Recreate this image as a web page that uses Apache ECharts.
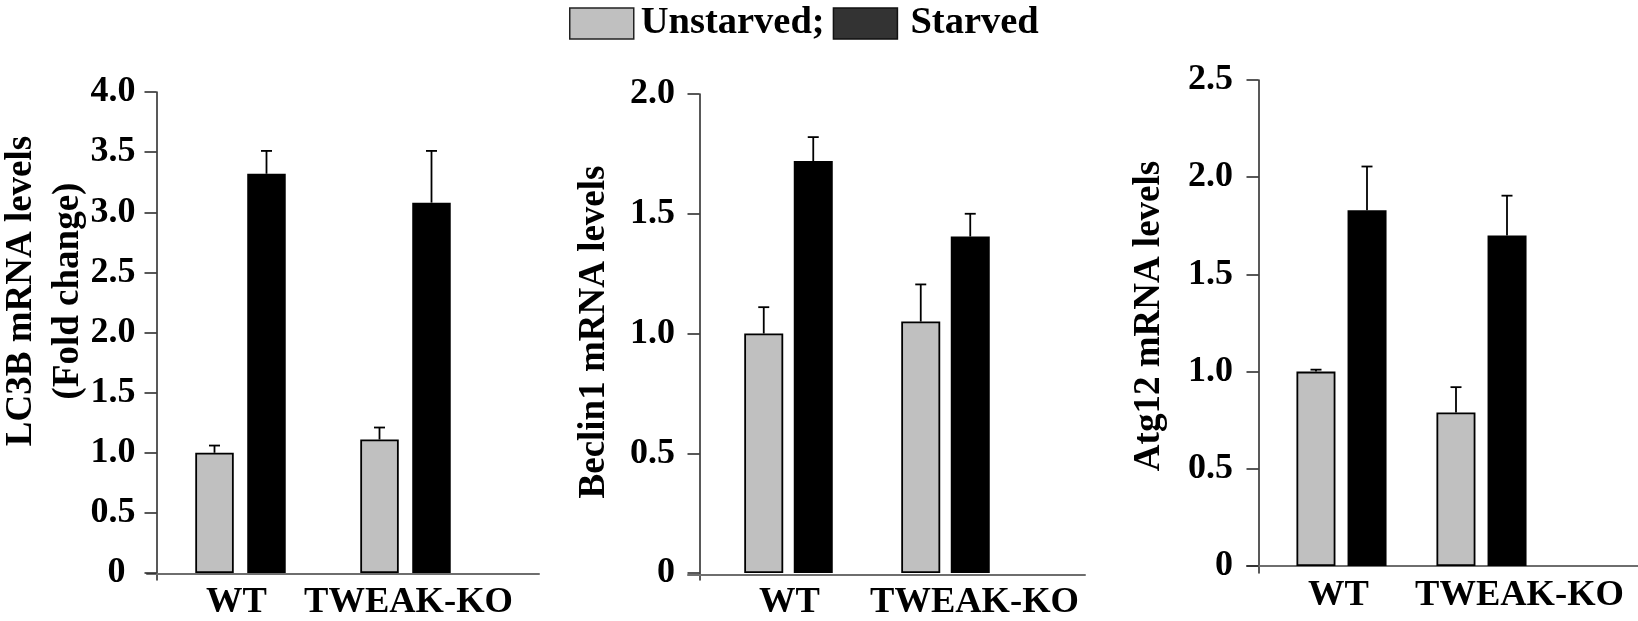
<!DOCTYPE html>
<html>
<head>
<meta charset="utf-8">
<script src="https://cdn.jsdelivr.net/npm/echarts@6/dist/echarts.min.js"></script>
<style>
html,body{margin:0;padding:0;background:#fff;}
#chart{width:1638px;height:621px;}
</style>
</head>
<body>
<div id="chart"></div>
<script>
// ---- data ----
const categories = ['WT', 'TWEAK-KO'];
const seriesNames = ['Unstarved', 'Starved'];

const lc3bUnstarved = [1.00, 1.11];
const lc3bUnstarvedErr = [0.06, 0.10];
const lc3bStarved = [3.32, 3.08];
const lc3bStarvedErr = [0.19, 0.43];
const lc3bTicks = [0, 0.5, 1.0, 1.5, 2.0, 2.5, 3.0, 3.5, 4.0];

const beclinUnstarved = [1.00, 1.05];
const beclinUnstarvedErr = [0.11, 0.155];
const beclinStarved = [1.72, 1.405];
const beclinStarvedErr = [0.10, 0.095];
const beclinTicks = [0, 0.5, 1.0, 1.5, 2.0];

const atgUnstarved = [1.00, 0.79];
const atgUnstarvedErr = [0.01, 0.13];
const atgStarved = [1.83, 1.70];
const atgStarvedErr = [0.225, 0.205];
const atgTicks = [0, 0.5, 1.0, 1.5, 2.0, 2.5];

const titles = [['LC3B mRNA levels', '(Fold change)'], ['Beclin1 mRNA levels'], ['Atg12 mRNA levels']];

// ---- layout (styles only) ----
const FONT = '"Liberation Serif", "Times New Roman", serif';
const panels = [
  { u: lc3bUnstarved, ue: lc3bUnstarvedErr, s: lc3bStarved, se: lc3bStarvedErr, ticks: lc3bTicks,
    grid: {left: 158, top: 92, width: 330, height: 489}, yMin: -0.058, yOffset: 1.5, labelMargin: 21,
    base: {left: 147, top: 92, width: 392, height: 482}, barWidth: 38.5, barGap: '35%', errOff: 26,
    xFont: 36.5, xShift: [-4, 3], zeroPad: 10, title: {x: 45, y: 291} },
  { u: beclinUnstarved, ue: beclinUnstarvedErr, s: beclinStarved, se: beclinStarvedErr, ticks: beclinTicks,
    grid: {left: 710, top: 94, width: 314, height: 488}, yMin: -0.029, yOffset: 10.5, labelMargin: 24.5,
    base: {left: 688, top: 94, width: 397, height: 481}, barWidth: 39, barGap: '27%', errOff: 24.75,
    xFont: 36.5, xShift: [1, 29], zeroPad: 0, title: {x: 594, y: 332} },
  { u: atgUnstarved, ue: atgUnstarvedErr, s: atgStarved, se: atgStarvedErr, ticks: atgTicks,
    grid: {left: 1271.5, top: 80, width: 280, height: 493}, yMin: -0.036, yOffset: 13, labelMargin: 25.5,
    base: {left: 1247, top: 80, width: 391, height: 486}, barWidth: 39, barGap: '31%', errOff: 25.5,
    xFont: 36.5, xShift: [-3, 38], zeroPad: 0, title: {x: 1149, y: 316} }
];

function shiftPad(s) { return s >= 0 ? [0, 0, 0, 2 * s] : [0, -2 * s, 0, 0]; }

function errRender(offset) {
  return function (params, api) {
    const c = api.value(0), v = api.value(1), e = api.value(2);
    const top = api.coord([c, v + e]);
    const bot = api.coord([c, v]);
    const x = top[0] + offset;
    const st = {stroke: '#000', lineWidth: 1.8};
    return {type: 'group', children: [
      {type: 'line', shape: {x1: x, y1: bot[1], x2: x, y2: top[1]}, style: st},
      {type: 'line', shape: {x1: x - 5.5, y1: top[1], x2: x + 5.5, y2: top[1]}, style: st}
    ]};
  };
}

const grids = [], xAxes = [], yAxes = [], series = [], graphics = [];
panels.forEach((p, i) => {
  const gi = grids.length;
  grids.push(Object.assign({containLabel: false}, p.grid));
  const ymax = p.ticks[p.ticks.length - 1];
  xAxes.push({
    type: 'category', gridIndex: gi, data: categories,
    axisLine: {show: false, onZero: false}, axisTick: {show: false}, splitLine: {show: false},
    axisLabel: {
      margin: 4, color: '#000', fontFamily: FONT, fontWeight: 'bold', fontSize: p.xFont, interval: 0,
      formatter: (v, idx) => '{t' + idx + '|' + v + '}',
      rich: {
        t0: {fontFamily: FONT, fontWeight: 'bold', fontSize: p.xFont, color: '#000', padding: shiftPad(p.xShift[0])},
        t1: {fontFamily: FONT, fontWeight: 'bold', fontSize: p.xFont, color: '#000', padding: shiftPad(p.xShift[1])}
      }
    }
  });
  yAxes.push({
    type: 'value', gridIndex: gi, min: p.yMin, max: ymax, offset: p.yOffset,
    axisLine: {show: true, lineStyle: {color: '#222', width: 1.5}},
    axisTick: {show: true, length: 12, customValues: p.ticks, lineStyle: {color: '#222', width: 1.5}},
    splitLine: {show: false},
    axisLabel: {
      customValues: p.ticks, margin: p.labelMargin, color: '#000',
      fontFamily: FONT, fontWeight: 'bold', fontSize: 36,
      formatter: v => (Math.abs(v) < 1e-9 ? '{z|0}' : v.toFixed(1)),
      rich: {z: {fontFamily: FONT, fontWeight: 'bold', fontSize: 36, color: '#000', padding: [0, p.zeroPad, 0, 0]}}
    }
  });
  // baseline grid (long x-axis line)
  const bi = grids.length;
  grids.push(Object.assign({containLabel: false}, p.base));
  xAxes.push({type: 'value', gridIndex: bi, min: 0, max: 1,
    axisLine: {show: true, onZero: false, lineStyle: {color: '#6e6e6e', width: 2}},
    axisTick: {show: false}, axisLabel: {show: false}, splitLine: {show: false}});
  yAxes.push({type: 'value', gridIndex: bi, min: 0, max: 1, show: false});

  const xi = xAxes.length - 2, yi = yAxes.length - 2;
  series.push({
    name: seriesNames[0], type: 'bar', xAxisIndex: xi, yAxisIndex: yi, data: p.u,
    barWidth: p.barWidth, barGap: p.barGap,
    itemStyle: {color: '#c0c0c0', borderColor: '#000', borderWidth: 1.8}, z: 2
  });
  series.push({
    name: seriesNames[1], type: 'bar', xAxisIndex: xi, yAxisIndex: yi, data: p.s,
    barWidth: p.barWidth, barGap: p.barGap,
    itemStyle: {color: '#000'}, z: 2
  });
  series.push({
    type: 'custom', xAxisIndex: xi, yAxisIndex: yi, z: 3,
    renderItem: errRender(-p.errOff), encode: {x: 0, y: 1},
    data: categories.map((c, k) => [k, p.u[k], p.ue[k]])
  });
  series.push({
    type: 'custom', xAxisIndex: xi, yAxisIndex: yi, z: 3,
    renderItem: errRender(p.errOff), encode: {x: 0, y: 1},
    data: categories.map((c, k) => [k, p.s[k], p.se[k]])
  });
  graphics.push({
    type: 'text', x: p.title.x, y: p.title.y, rotation: Math.PI / 2,
    style: {text: titles[i].join('\n'), fill: '#000', font: 'bold 37px ' + FONT,
      textAlign: 'center', textVerticalAlign: 'middle', lineHeight: 47}
  });
});

const chart = echarts.init(document.getElementById('chart'), null, {renderer: 'canvas'});
chart.setOption({
  animation: false,
  backgroundColor: '#fff',
  legend: {
    left: 569, top: 4, padding: 0, itemWidth: 64, itemHeight: 31, itemGap: 8, icon: 'rect',
    textStyle: {fontFamily: FONT, fontWeight: 'bold', fontSize: 38.5, color: '#000',
      rich: {
        a: {fontFamily: FONT, fontWeight: 'bold', fontSize: 38.5, color: '#000', padding: [0, 0, 0, 2]},
        b: {fontFamily: FONT, fontWeight: 'bold', fontSize: 38.5, color: '#000', padding: [0, 0, 0, 8]}
      }
    },
    formatter: n => (n === seriesNames[0] ? '{a|' + n + ';}' : '{b|' + n + '}'),
    data: [
      {name: seriesNames[0], itemStyle: {color: '#c0c0c0', borderColor: '#222', borderWidth: 1.5}},
      {name: seriesNames[1], itemStyle: {color: '#333333', borderColor: '#111', borderWidth: 1.5}}
    ]
  },
  grid: grids, xAxis: xAxes, yAxis: yAxes, series: series, graphic: graphics
});
</script>
</body>
</html>
